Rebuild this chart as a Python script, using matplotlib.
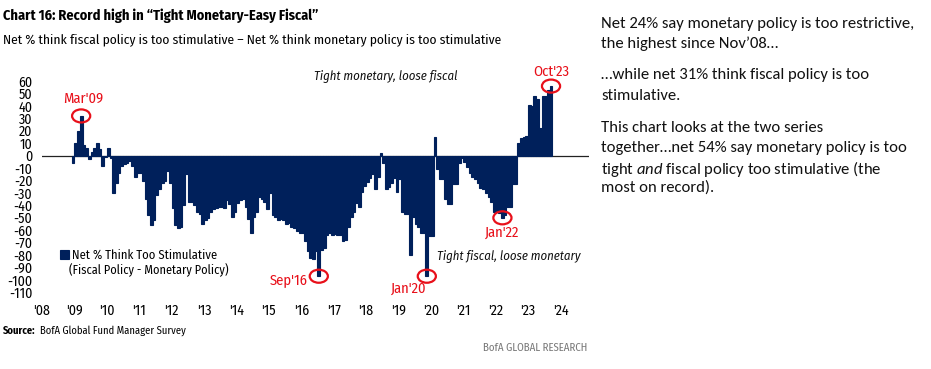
import numpy as np
import pandas as pd
import matplotlib
matplotlib.use('Agg')
import matplotlib.pyplot as plt
from matplotlib.patches import Ellipse

# ---------------- data ----------------
start_month = '2008-12'
net_pct = [
    -6, 10, 20, 32, 9, 6, -3, 3, 6, 10, 5, -8, -1,            # Dec'08 - Dec'09
    6, -2, -30, -22, -14, -8, -7, -6, -4, -8, -17, -14,        # 2010
    -14, -20, -35, -48, -56, -52, -32, -27, -22, -20, -12, -22,  # 2011
    -42, -56, -58, -57, -40, -15, -37, -37, -40, -45, -47, -55,  # 2012
    -52, -50, -45, -43, -42, -41, -41, -42, -36, -39, -49, -45,  # 2013
    -38, -36, -35, -41, -51, -62, -49, -45, -33, -35, -37, -43,  # 2014
    -30, -48, -49, -52, -51, -52, -55, -54, -57, -58, -61, -62,  # 2015
    -62, -69, -77, -82, -83, -77, -97, -76, -74, -64, -62, -64,  # 2016
    -63, -64, -64, -69, -68, -57, -49, -45, -38, -41, -29, -24,  # 2017
    -21, -18, -15, -27, -17, 2, -6, -27, -25, -22, -18, -29,     # 2018
    -19, -45, -47, -47, -80, -49, -55, -57, -62, -62, -97, -65,  # 2019
    -65, 15, -11, -19, -19, -35, -39, -39, -23, -23, -6, -2,     # 2020
    -5, -9, -14, -17, -19, -22, -26, -27, -30, -33, -37, -45,    # 2021
    -45, -46, -50, -48, -41, -41, -23, -23, 10, 14, 15, 16,      # 2022
    41, 40, 48, 46, 22, 48, 48, 53, 56,                          # 2023
]
year_ticks = list(range(2008, 2025))
year_labels = ["'%02d" % (y % 100) for y in year_ticks]
y_ticks = list(range(-110, 61, 10))
highlight_labels = ["Mar'09", "Sep'16", "Jan'20", "Jan'22", "Oct'23"]
highlight_dates = ['2009-03', '2016-09', '2020-01', '2022-01', '2023-10']
highlight_kind = ['max', 'min', 'min', 'min', 'max']

NAVY = '#00205B'
RED = '#E8101A'
CHART_FONT = ['Fira Sans Condensed', 'Roboto Condensed', 'DejaVu Sans']
BODY_FONT = ['Carlito', 'Lato', 'DejaVu Sans']

plt.rcParams['font.family'] = CHART_FONT
plt.rcParams['mathtext.fontset'] = 'custom'
plt.rcParams['mathtext.it'] = 'Carlito:italic'
plt.rcParams['mathtext.rm'] = 'Carlito'

W, H = 931, 369
fig = plt.figure(figsize=(W / 100, H / 100), dpi=100)

dates = pd.period_range(start_month, periods=len(net_pct), freq='M')
xpos = np.asarray(dates.year + (dates.month - 1) / 12.0, dtype=float)
vals = np.asarray(net_pct, dtype=float)

ax_top, ax_bot = 68.7, 298.6
ax = fig.add_axes([42 / W, (H - ax_bot) / H, 547 / W, (ax_bot - ax_top) / H])
ax.bar(xpos, vals, width=1 / 12, align='edge', color=NAVY, edgecolor=NAVY,
       linewidth=0.8, zorder=2, label='Net % Think Too Stimulative')
ax.axhline(0, color='#222222', lw=0.9, zorder=1)
ax.set_xlim(2008, 2024.88)
ax.set_ylim(-115, 70)
ax.set_yticks(y_ticks)
ax.set_yticklabels([str(v) for v in y_ticks])
ax.set_xticks(year_ticks)
ax.set_xticklabels(year_labels)
ax.tick_params(axis='both', length=0, labelsize=10, colors='black')
ax.tick_params(axis='y', pad=7)
ax.tick_params(axis='x', pad=4)
for s in ax.spines.values():
    s.set_visible(False)
ax.patch.set_alpha(0)

# highlight circles + labels
offsets = {"Mar'09": (1.5, 12), "Sep'16": (-22, -3), "Jan'20": (-13, -9),
           "Jan'22": (0, -11), "Oct'23": (0, 10)}
for lab, d, kind in zip(highlight_labels, highlight_dates, highlight_kind):
    p = pd.Period(d, freq='M')
    idx = [i for i, q in enumerate(dates) if abs((q - p).n) <= 3]
    sub = vals[idx]
    j = idx[int(np.argmax(sub) if kind == 'max' else np.argmin(sub))]
    cx, cy = xpos[j] + 1 / 24, vals[j]
    ax.add_patch(Ellipse((cx, cy), 0.56, 10.5, fill=False, edgecolor=RED,
                         lw=1.6, zorder=5, clip_on=False))
    ax.annotate(lab, (cx, cy), xytext=offsets[lab], textcoords='offset points',
                ha='center', va='center', color=RED, fontsize=10.5)

ax.text(2018.62, 64, 'Tight monetary, loose fiscal', ha='center', va='center',
        style='italic', fontsize=9.2, color='#111111')
ax.text(2022.41, -81, 'Tight fiscal, loose monetary', ha='center', va='center',
        style='italic', fontsize=9.2, color='#111111')

leg = ax.legend(loc='center left', bbox_to_anchor=(60 / W, (H - 255.5) / H),
                bbox_transform=fig.transFigure, frameon=False, fontsize=9,
                handlelength=0.75, handleheight=0.75, handletextpad=0.2,
                borderpad=0, borderaxespad=0)
fig.text(69 / W, (H - 270.5) / H, '(Fiscal Policy - Monetary Policy)',
         fontsize=8.8, va='center', ha='left')

# titles
fig.text(3 / W, (H - 16) / H, 'Chart 16: Record high in \u201cTight Monetary-Easy Fiscal\u201d',
         fontsize=10.3, fontweight='bold', va='center', ha='left')
fig.text(3 / W, (H - 39.5) / H,
         'Net % think fiscal policy is too stimulative \u2013 Net % think monetary policy is too stimulative',
         fontsize=9.7, va='center', ha='left')

# source
fig.text(3 / W, (H - 331) / H, 'Source:', fontsize=7.6, fontweight='bold',
         va='center', ha='left')
fig.text(40 / W, (H - 331) / H, 'BofA Global Fund Manager Survey', fontsize=7.6,
         va='center', ha='left')
fig.text(587 / W, (H - 347.5) / H, 'BofA GLOBAL RESEARCH', fontsize=7.8,
         va='center', ha='right', color='#777777')

# right-hand commentary
lines = [
    (22.5, 'Net 24% say monetary policy is too restrictive,'),
    (42, 'the highest since Nov\u201908\u2026'),
    (74, '\u2026while net 31% think fiscal policy is too'),
    (94, 'stimulative.'),
    (126.5, 'This chart looks at the two series'),
    (146.5, 'together\u2026net 54% say monetary policy is too'),
    (166.5, r'tight $\mathit{and}$ fiscal policy too stimulative (the'),
    (186.5, 'most on record).'),
]
for yy, s in lines:
    fig.text(601 / W, (H - yy) / H, s, fontsize=12, family=BODY_FONT,
             va='center_baseline', ha='left', color='#111111')

fig.savefig('out.png', dpi=100)
